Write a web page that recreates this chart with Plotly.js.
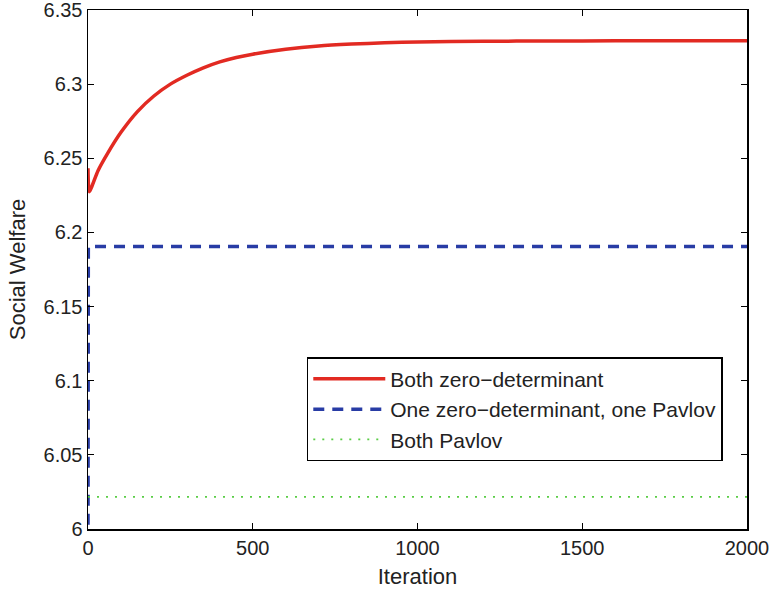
<!DOCTYPE html>
<html>
<head>
<meta charset="utf-8">
<script src="https://cdn.plot.ly/plotly-3.0.1.min.js"></script>
<style>html,body{margin:0;padding:0;background:#fff;}#chart{width:773px;height:592px;}</style>
</head>
<body>
<div id="chart"></div>
<script>
// Both zero-determinant (red)
var zdIter = [0, 4, 30, 60, 100, 150, 200, 250, 300, 350, 400, 450, 500, 600, 700, 800, 900, 1000, 1200, 1400, 1600, 1800, 2000];
var zdWelfare = [6.2433, 6.2275, 6.2415, 6.2535, 6.2675, 6.2815, 6.2920, 6.3000, 6.3060, 6.3110, 6.3150, 6.3180, 6.3202, 6.3235, 6.3257, 6.3270, 6.3279, 6.3284, 6.3289, 6.3291, 6.3292, 6.3293, 6.3293];
// One zero-determinant, one Pavlov (blue)
var mixIter = [0, 1, 2000];
var mixWelfare = [5.99, 6.1905, 6.1905];
// Both Pavlov (green)
var pavIter = [0, 2000];
var pavWelfare = [6.0216, 6.0216];

var seriesNames = ["Both zero\u2212determinant", "One zero\u2212determinant, one Pavlov", "Both Pavlov"];
var xTicks = [0, 500, 1000, 1500, 2000];
var yTicks = [6, 6.05, 6.1, 6.15, 6.2, 6.25, 6.3, 6.35];
var yTickText = ["6", "6.05", "6.1", "6.15", "6.2", "6.25", "6.3", "6.35"];

var font = "Liberation Sans, Arial, Helvetica, sans-serif";
var traces = [
  {x: zdIter, y: zdWelfare, name: seriesNames[0], mode: "lines",
   line: {color: "rgb(226,42,34)", width: 3.5, shape: "spline", smoothing: 0.6}},
  {x: mixIter, y: mixWelfare, name: seriesNames[1], mode: "lines",
   line: {color: "rgb(40,60,165)", width: 3.5, dash: "11px,8px"}},
  {x: pavIter, y: pavWelfare, name: seriesNames[2], mode: "lines",
   line: {color: "rgb(90,205,70)", width: 1.8, dash: "2px,7px"}}
];
var axisCommon = {
  showgrid: false, zeroline: false, showline: true, linecolor: "#000", linewidth: 1.5,
  mirror: "ticks", ticks: "inside", ticklen: 6, tickwidth: 1, tickcolor: "#000",
  ticklabeloverflow: "allow",
  tickfont: {family: font, size: 20, color: "#222"}
};
var layout = {
  width: 773, height: 592,
  margin: {l: 88, r: 26, t: 10, b: 63},
  paper_bgcolor: "#fff", plot_bgcolor: "#fff",
  showlegend: true,
  legend: {x: 0.332, y: 0.331, xanchor: "left", yanchor: "top",
    bordercolor: "#000", borderwidth: 1.5, bgcolor: "#fff",
    font: {family: font, size: 21, color: "#222"}, traceorder: "normal",
    tracegroupgap: 0, itemwidth: 72},
  xaxis: Object.assign({}, axisCommon, {
    range: [0, 2000], tickvals: xTicks, ticktext: xTicks.map(String),
    title: {text: "Iteration", font: {family: font, size: 22, color: "#222"}, standoff: 11}
  }),
  yaxis: Object.assign({}, axisCommon, {
    range: [6, 6.35], tickvals: yTicks, ticktext: yTickText,
    title: {text: "Social Welfare", font: {family: font, size: 22, color: "#222"}, standoff: 12}
  })
};
Plotly.newPlot("chart", traces, layout, {displayModeBar: false, staticPlot: true});
</script>
</body>
</html>
